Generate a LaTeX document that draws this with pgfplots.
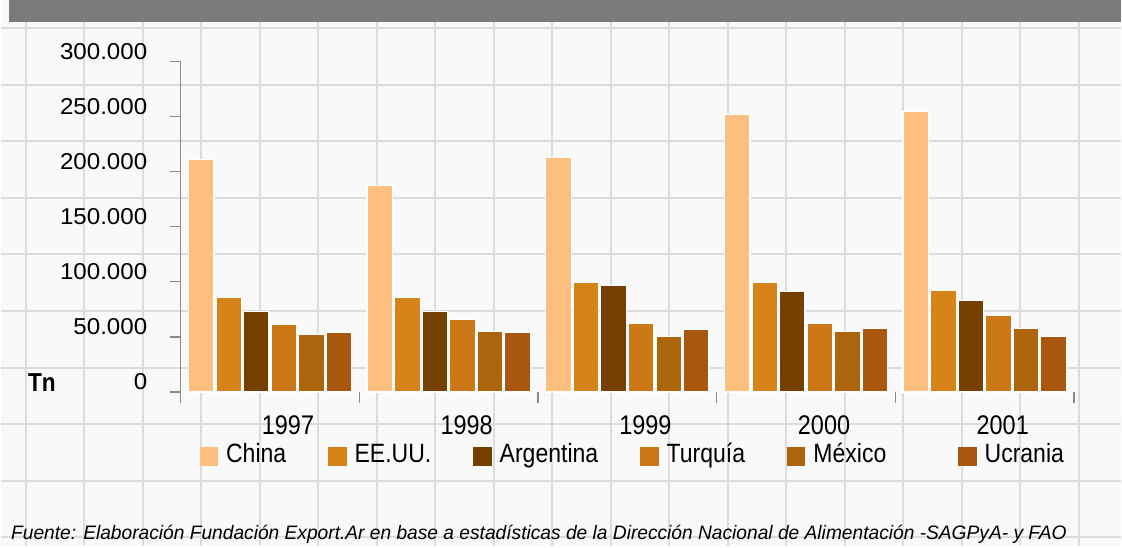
\documentclass[border=0pt]{standalone}
\usepackage{pgfplots}
\pgfplotsset{compat=1.18}
\usepackage{fontspec}
\setmainfont{Liberation Sans}
\newfontfamily\narrowfont{Liberation Sans}[FakeStretch=0.87]
\newfontfamily\tickfont{Liberation Sans}[FakeStretch=1.05]
\newfontfamily\footfont{Liberation Sans}[FakeStretch=0.985]

\definecolor{cChina}{HTML}{FCBF7E}
\definecolor{cEEUU}{HTML}{D68419}
\definecolor{cArg}{HTML}{753F00}
\definecolor{cTur}{HTML}{CD7817}
\definecolor{cMex}{HTML}{AC650D}
\definecolor{cUcr}{HTML}{A9570F}
\definecolor{bgcol}{HTML}{F9F9F9}
\definecolor{gridcol}{HTML}{DCDCDC}
\definecolor{headcol}{HTML}{7A7A7A}
\definecolor{axcol}{HTML}{8A8A8A}

\begin{document}
\begin{tikzpicture}[x=1pt,y=1pt]
% paper background
\fill[bgcol] (0,0) rectangle (1122,547);
\foreach \i in {0,...,18}
  \draw[gridcol, line width=2pt] ({25+58.6*\i},0) -- ({25+58.6*\i},525);
\foreach \j in {0,...,9}
  \draw[gridcol, line width=2pt] (0,{547-28-56.7*\j}) -- (1122,{547-28-56.7*\j});
\fill[headcol] (8,525) rectangle (1122,547);

\node[font=\narrowfont\bfseries\fontsize{26}{30}\selectfont] at (41,164) {Tn};
\node[anchor=base west, inner sep=0pt,
      font=\footfont\itshape\fontsize{19.5}{22}\selectfont] at (10,7)
  {Fuente: Elaboración Fundación Export.Ar en base a estadísticas de la Dirección Nacional de Alimentación -SAGPyA- y FAO};

\begin{axis}[
    at={(180pt,154.3pt)}, anchor=south west,
    scale only axis,
    width=895pt, height=331pt,
    xmin=-0.5, xmax=4.5,
    ymin=0, ymax=300000,
    clip=false,
    ybar=2pt,
    bar width=25.6pt,
    axis y line*=left,
    axis x line*=bottom,
    x axis line style={draw=none},
    y axis line style={draw=axcol, line width=1.2pt, shorten <=-10pt},
    tick align=outside,
    major tick length=11pt,
    tick style={draw=axcol, line width=1.2pt},
    xtick={-0.5,0.5,1.5,2.5,3.5,4.5},
    xticklabels={},
    extra x ticks={0,1,2,3,4},
    extra x tick labels={1997,1998,1999,2000,2001},
    extra x tick style={major tick length=0pt,
        tick label style={font=\narrowfont\fontsize{27}{30}\selectfont, xshift=18pt, yshift=-20pt}},
    ytick={0,50000,100000,150000,200000,250000,300000},
    yticklabels={0,50.000,100.000,150.000,200.000,250.000,300.000},
    scaled y ticks=false,
    yticklabel style={font=\tickfont\fontsize{23}{26}\selectfont, yshift=10pt, xshift=-19pt},
    legend columns=6,
    legend style={draw=none, fill=none, inner sep=0pt,
        at={(axis description cs:0.021,-0.194)}, anchor=west,
        font=\narrowfont\fontsize{26.5}{30}\selectfont,
        nodes={text height=19pt, text depth=6pt},
        /tikz/every odd column/.append style={column sep=6pt},
        /tikz/every even column/.append style={column sep=40pt}},
    legend image code/.code={\fill[#1, draw=none] (0pt,-9.5pt) rectangle (18.5pt,9.5pt);},
    every axis plot/.append style={draw=white, line width=1.2pt},
]
\addplot[fill=cChina] coordinates {(0,211000) (1,187300) (2,212700) (3,252300) (4,254400)};
\addplot[fill=cEEUU] coordinates {(0,86100) (1,86000) (2,99400) (3,99400) (4,92200)};
\addplot[fill=cArg] coordinates {(0,73400) (1,73000) (2,96700) (3,91300) (4,83400)};
\addplot[fill=cTur] coordinates {(0,61600) (1,66000) (2,62000) (3,62000) (4,69200)};
\addplot[fill=cMex] coordinates {(0,52300) (1,55000) (2,50500) (3,55000) (4,57400)};
\addplot[fill=cUcr] coordinates {(0,53800) (1,54000) (2,57000) (3,57400) (4,50200)};
\legend{China, EE.UU., Argentina, Turquía, México\rule{30pt}{0pt}, Ucrania}
\end{axis}
\end{tikzpicture}
\end{document}
